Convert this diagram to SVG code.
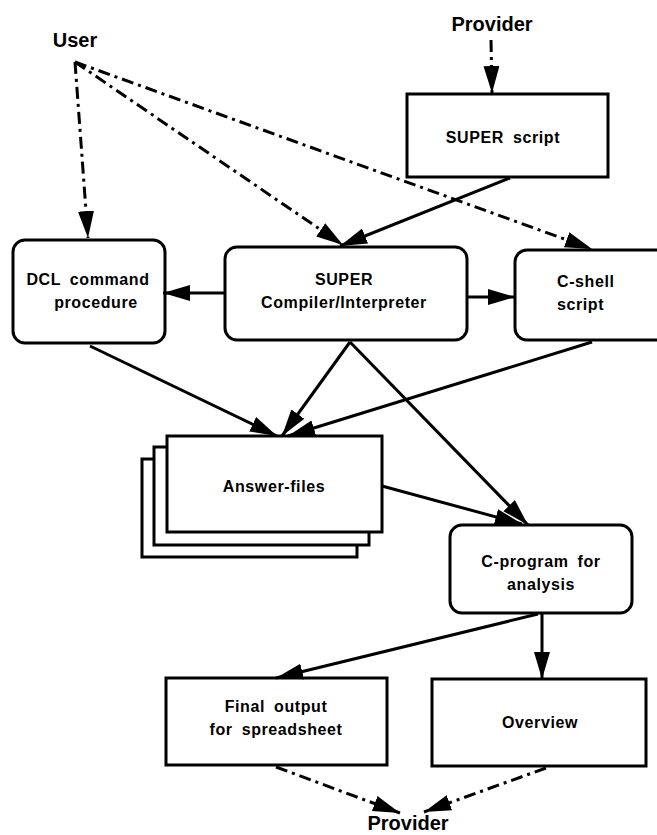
<svg xmlns="http://www.w3.org/2000/svg" width="657" height="835" viewBox="0 0 657 835">
<style>
.box{fill:#fff;stroke:#000;stroke-width:3}
.t{font-family:"Liberation Sans",Arial,sans-serif;font-weight:bold;font-size:16px;letter-spacing:0.6px;fill:#000;word-spacing:4px}
.big{font-family:"Liberation Sans",Arial,sans-serif;font-weight:bold;font-size:20px;fill:#000}
.c{fill:none;stroke:#000;stroke-width:3}
.d{fill:none;stroke:#000;stroke-width:3;stroke-dasharray:12 5 3 5}
</style>
<defs>
<marker id="ah" markerUnits="userSpaceOnUse" markerWidth="30" markerHeight="18" refX="27" refY="8" orient="auto">
<path d="M0,0 L27,8 L0,16 Z" fill="#000"/>
</marker>
</defs>
<rect width="657" height="835" fill="#fff"/>
<g id="user"><text class="big" x="75" y="47" text-anchor="middle">User</text></g>
<g id="provider-top"><text class="big" x="492" y="31" text-anchor="middle">Provider</text></g>
<g id="provider-bottom"><text class="big" x="408" y="830" text-anchor="middle">Provider</text></g>
<g id="super-script"><rect class="box" x="407" y="94" width="201" height="83"/><text class="t" x="503" y="143" text-anchor="middle">SUPER script</text></g>
<g id="dcl"><rect class="box" x="13" y="240" width="152" height="103" rx="12"/><text class="t" x="88" y="285" text-anchor="middle">DCL command</text><text class="t" x="96" y="308" text-anchor="middle">procedure</text></g>
<g id="compiler"><rect class="box" x="225" y="247" width="242" height="93" rx="12"/><text class="t" x="344" y="285" text-anchor="middle">SUPER</text><text class="t" x="344" y="308" text-anchor="middle">Compiler/Interpreter</text></g>
<g id="cshell"><rect class="box" x="515" y="250" width="160" height="90" rx="12"/><text class="t" x="557" y="287">C-shell</text><text class="t" x="557" y="310">script</text></g>
<g id="answer-files"><rect class="box" x="142" y="459" width="215" height="98"/><rect class="box" x="154" y="447" width="215" height="98"/><rect class="box" x="167" y="436" width="215" height="96"/><text class="t" x="274" y="492" text-anchor="middle">Answer-files</text></g>
<g id="cprogram"><rect class="box" x="450" y="525" width="182" height="88" rx="12"/><text class="t" x="541" y="567" text-anchor="middle">C-program for</text><text class="t" x="541" y="590" text-anchor="middle">analysis</text></g>
<g id="final"><rect class="box" x="166" y="678" width="221" height="87"/><text class="t" x="276" y="712" text-anchor="middle">Final output</text><text class="t" x="276" y="735" text-anchor="middle">for spreadsheet</text></g>
<g id="overview"><rect class="box" x="432" y="679" width="214" height="87"/><text class="t" x="540" y="728" text-anchor="middle">Overview</text></g>
<g id="connectors">
<path class="d" d="M75,62 L88,238" marker-end="url(#ah)"/>
<path class="d" d="M75,62 L343,245" marker-end="url(#ah)"/>
<path class="d" d="M75,62 L592,249" marker-end="url(#ah)"/>
<path class="d" d="M491,40 L492,93" marker-end="url(#ah)"/>
<path class="c" d="M510,178 L340,246" marker-end="url(#ah)"/>
<path class="c" d="M225,293 L163,293" marker-end="url(#ah)"/>
<path class="c" d="M467,297 L515,297" marker-end="url(#ah)"/>
<path class="c" d="M90,346 L277,436" marker-end="url(#ah)"/>
<path class="c" d="M350,342 L282,436" marker-end="url(#ah)"/>
<path class="c" d="M592,342 L288,436" marker-end="url(#ah)"/>
<path class="c" d="M350,342 L528,525" marker-end="url(#ah)"/>
<path class="c" d="M382,486 L522,524" marker-end="url(#ah)"/>
<path class="c" d="M542,613 L542,679" marker-end="url(#ah)"/>
<path class="c" d="M538,614 L276,678" marker-end="url(#ah)"/>
<path class="d" d="M276,767 L400,813" marker-end="url(#ah)"/>
<path class="d" d="M546,768 L424,812" marker-end="url(#ah)"/>
</g>
</svg>
